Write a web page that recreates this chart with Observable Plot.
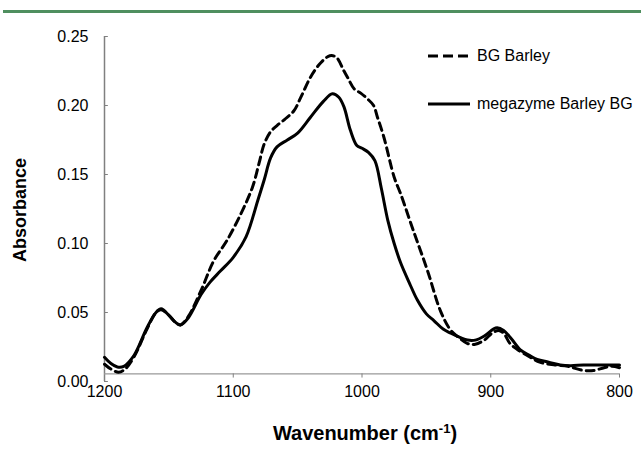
<!DOCTYPE html>
<html>
<head>
<meta charset="utf-8">
<script src="https://cdn.jsdelivr.net/npm/d3@7"></script>
<script src="https://cdn.jsdelivr.net/npm/@observablehq/plot@0.6"></script>
<style>
  html, body { margin: 0; padding: 0; background: #fff; }
  #wrap { position: relative; width: 641px; height: 451px; overflow: hidden; font-family: "Liberation Sans", Arial, sans-serif; }
  #topline { position: absolute; left: 3px; right: 0; top: 10px; height: 3px; background: #4f8f5f; }
  #chart { position: absolute; left: 0; top: 0; }
  #legend { position: absolute; left: 426px; top: 44px; font-size: 16px; color: #000; }
  .item { display: flex; align-items: center; height: 24px; margin-bottom: 24px; }
  .item svg { margin-right: 7px; }
</style>
</head>
<body>
<div id="wrap">
  <div id="chart"></div>
  <div id="topline"></div>
  <div id="legend"></div>
</div>
<script>
// Wavenumbers (cm-1) and absorbance for each series
const bgBarleyWave = [1200,1195,1189,1184,1177,1167,1160,1156,1150,1145,1141,1135,1125,1115,1105,1094,1085,1080,1076,1071,1066,1060,1053,1047,1040,1032,1025,1020,1014,1011,1006,1001,996,991,988,983,975,970,960,949,939,931,925,918,912,905,899,894,890,885,879,870,862,850,840,828,820,812,806,800];
const bgBarleyAbs  = [0.0125,0.009,0.0067,0.009,0.018,0.038,0.050,0.052,0.048,0.043,0.041,0.047,0.066,0.0877,0.102,0.1217,0.141,0.158,0.172,0.181,0.1855,0.190,0.196,0.207,0.2205,0.231,0.236,0.235,0.225,0.220,0.212,0.209,0.205,0.200,0.1915,0.177,0.148,0.136,0.109,0.080,0.051,0.037,0.032,0.0275,0.027,0.030,0.035,0.037,0.035,0.0275,0.023,0.018,0.014,0.012,0.011,0.008,0.008,0.010,0.011,0.010];

const megazymeWave = [1200,1195,1190,1185,1177,1167,1160,1156,1150,1145,1141,1135,1125,1118,1110,1100,1090,1081,1076,1071,1066,1058,1050,1040,1030,1023,1018,1014,1009,1004,1000,995,990,985,980,975,970,963,957,950,944,937,931,924,918,912,905,898,895,890,884,877,870,864,855,846,838,828,818,810,800];
const megazymeAbs  = [0.0175,0.013,0.0105,0.011,0.019,0.039,0.050,0.0527,0.048,0.043,0.041,0.046,0.063,0.072,0.080,0.090,0.105,0.131,0.146,0.162,0.170,0.175,0.180,0.1915,0.203,0.2085,0.206,0.199,0.182,0.171,0.169,0.166,0.160,0.140,0.117,0.100,0.086,0.071,0.059,0.049,0.044,0.038,0.035,0.032,0.030,0.030,0.033,0.038,0.039,0.037,0.031,0.023,0.019,0.016,0.014,0.012,0.0115,0.012,0.012,0.012,0.012];

const seriesNames = ["BG Barley", "megazyme Barley BG"];
const xTicks = [1200, 1100, 1000, 900, 800];
const yTicks = [0, 0.05, 0.10, 0.15, 0.20, 0.25];
const xAxisCross = 0.0055; // horizontal axis drawn slightly above 0

const bg = bgBarleyWave.map((w, i) => ({w, a: bgBarleyAbs[i]}));
const mz = megazymeWave.map((w, i) => ({w, a: megazymeAbs[i]}));

const axisGray = "#808080";
const fontFamily = '"Liberation Sans", Arial, sans-serif';

const chart = Plot.plot({
  width: 641,
  height: 451,
  marginTop: 36,
  marginBottom: 70,
  marginLeft: 104,
  marginRight: 22,
  style: {fontFamily, fontSize: "15px", color: "#000", background: "transparent"},
  x: {domain: [1200, 800], ticks: xTicks},
  y: {domain: [0, 0.25], ticks: yTicks},
  marks: [
    Plot.ruleX([1200], {y1: 0, y2: 0.25, stroke: axisGray, strokeWidth: 1.5}),
    Plot.ruleY(yTicks, {x1: 1200, x2: 1197, stroke: axisGray, strokeWidth: 1}),
    Plot.ruleY([xAxisCross], {x1: 1200, x2: 800, stroke: "#999", strokeWidth: 1.2}),
    Plot.ruleX(xTicks.slice(1), {y1: xAxisCross, y2: 0.0025, stroke: axisGray, strokeWidth: 1}),
    Plot.axisY({ticks: yTicks, tickSize: 0, tickPadding: 16, tickFormat: d3.format(".2f"), label: null, fontSize: 16}),
    Plot.axisX({ticks: xTicks, tickSize: 0, tickPadding: 4, tickFormat: d => String(d), label: null, fontSize: 16}),
    Plot.lineY(mz, {x: "w", y: "a", stroke: "#000", strokeWidth: 3, curve: "catmull-rom"}),
    Plot.lineY(bg, {x: "w", y: "a", stroke: "#000", strokeWidth: 3, strokeDasharray: "8,5", curve: "catmull-rom"})
  ]
});
document.getElementById("chart").appendChild(chart);

const svg = d3.select(chart.tagName.toLowerCase() === "svg" ? chart : chart.querySelector("svg"));
svg.append("text")
  .attr("transform", "translate(20,210) rotate(-90)")
  .attr("text-anchor", "middle").attr("dominant-baseline", "central")
  .style("font-family", fontFamily).style("font-size", "18px").style("font-weight", "bold")
  .text("Absorbance");
const xt = svg.append("text")
  .attr("x", 365).attr("y", 440).attr("text-anchor", "middle")
  .style("font-family", fontFamily).style("font-size", "20px").style("font-weight", "bold");
xt.append("tspan").text("Wavenumber (cm");
xt.append("tspan").attr("dy", "-7").style("font-size", "13px").text("-1");
xt.append("tspan").attr("dy", "7").text(")");

const legend = d3.select("#legend");
seriesNames.forEach((name, i) => {
  const item = legend.append("div").attr("class", "item");
  const s = item.append("svg").attr("width", 44).attr("height", 10);
  s.append("line").attr("x1", 2).attr("x2", 44).attr("y1", 5).attr("y2", 5)
    .attr("stroke", "#000").attr("stroke-width", 3)
    .attr("stroke-dasharray", i === 0 ? "10,5" : null);
  item.append("span").text(name);
});
</script>
</body>
</html>
